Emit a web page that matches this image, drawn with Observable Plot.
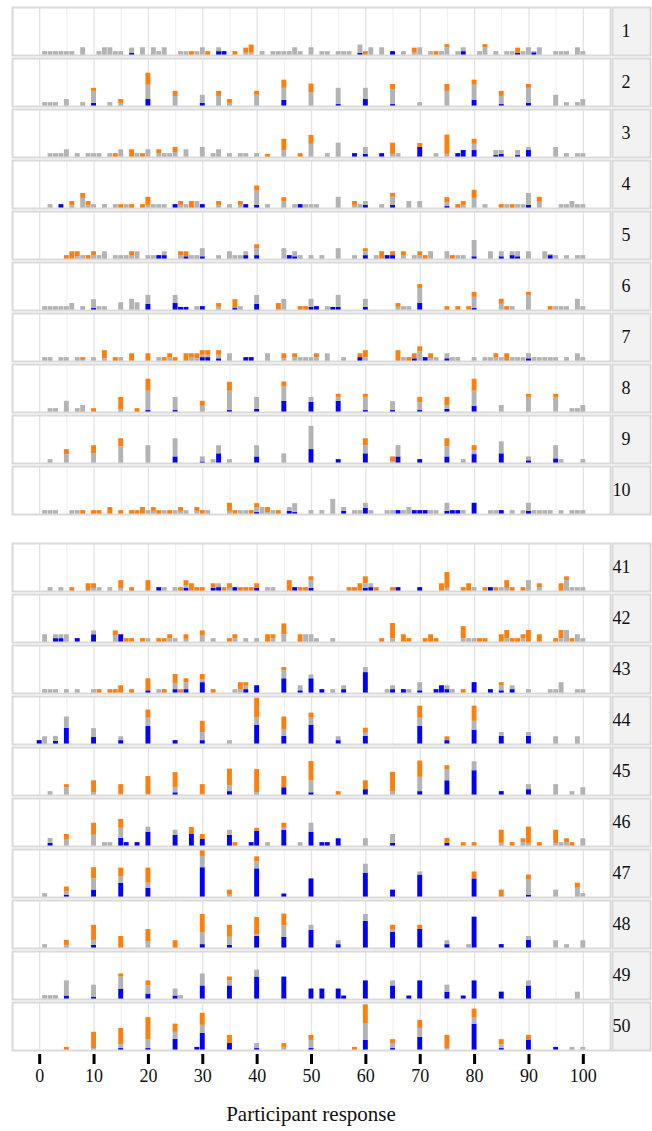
<!DOCTYPE html>
<html><head><meta charset="utf-8">
<script src="https://cdn.jsdelivr.net/npm/d3@7"></script>
<script src="https://cdn.jsdelivr.net/npm/@observablehq/plot@0.6"></script>
<style>
body{margin:0;background:#fff}
#chart svg{display:block}
#xlabel{width:622px;height:33px;line-height:33px;text-align:center;font-family:'Liberation Serif','DejaVu Serif',serif;font-size:21px;color:#111}
</style>
</head><body><div id="chart"></div><div id="xlabel"></div><script>
const FACETS = [1,2,3,4,5,6,7,8,9,10,41,42,43,44,45,46,47,48,49,50];
const SERIES = ["B","G","O"];
const COLORS = ["#0000ff","#b3b3b3","#ff7f0e"];
const X_TICKS = [0,10,20,30,40,50,60,70,80,90,100];
const X_LABEL = "Participant response";
const GRID_MAJOR = [0,10,20,30,40,50,60,70,80,90,100];
const GRID_MINOR = [5,15,25,35,45,55,65,75,85,95];
const BLUE = [
"17:.6 33:1 34:1 59:.6 65:1 78:1 88:.6 91:.7",
"10:.8 20:1.8 30:.8 45:1.6 55:.5 60:1.8 65:.5 80:1.6 85:.5 90:.8",
"58:1 60:.8 63:1 70:2.6 77:1 78:1.8 80:1.8 84:.5 85:.8 88:.5 90:1.8",
"4:1 25:1 30:1 38:1 40:.8 48:1 60:.8 65:.8 75:.5 90:.8",
"22:1 23:1 27:.7 30:.7 38:1 40:1 46:1 47:.7 60:1 64:1 65:1 80:.7 85:.7 87:1 88:.7 94:1",
"10:.5 20:1.6 25:1.8 26:.8 27:.8 30:1 36:.5 40:1.6 50:.8 51:1 54:.8 55:.8 60:.8 70:1.8 80:.5",
"30:1 31:1 33:.7 38:1 39:1 59:1 69:.7 71:1 75:.7 90:.7",
"20:.5 25:.5 35:.5 40:.8 45:2.9 50:2.6 55:2.9 60:.5 65:.5 70:.5 75:.8 80:1.6",
"25:1.7 30:.4 33:2.5 40:1.7 50:3.6 55:1 60:2.5 66:1.7 70:1 75:1.7 80:2.3 85:2.5 90:.7 95:1.2",
"40:.5 46:.8 47:.5 56:.8 60:1.6 66:1 69:1 70:1 71:1 75:.8 76:1 77:1 80:2.9 85:1 90:.8",
"22:1 27:.8 32:.8 33:1 36:1 40:.8 47:1 50:.8 60:.8 61:1 66:1 70:1 83:1",
"3:1 4:1 7:1 10:2 15:2",
"20:.7 25:1 27:1 30:2.8 38:1 40:2 45:3.8 48:.7 50:3.8 52:1 56:1 60:5.4 65:1 67:1 70:.7 73:1 74:2 75:1 80:2.8 83:1 85:.7 87:1",
"0:1 3:.8 5:4.2 10:1.8 15:1 20:4.7 25:1 30:1 40:5 45:2.1 50:5 55:1 60:2.1 70:4.7 75:1 80:3.7 85:2.1 90:2.1",
"25:.7 35:1 45:2 50:.7 60:1.5 70:1 75:3.8 80:6.4 85:1 90:1.5",
"2:.8 15:2.1 16:1 18:1 20:3.7 25:2.9 28:3.1 30:1.8 35:2.9 39:1 40:3.9 45:4.2 50:3.7 52:1 53:1 55:2 65:.8 75:.8",
"5:.6 10:1.9 15:3.7 20:2.4 30:7.7 40:7.4 45:.9 50:4.8 60:6.3 65:1.9 70:5.8 80:4.8 90:.6",
"10:.8 30:1 35:.8 40:3.1 45:2.9 50:4.7 55:1 60:7 65:4.2 70:5 75:1 80:8.1 85:1 90:2.1",
"5:.9 10:.6 15:2.7 20:1.4 25:.9 30:3.5 35:3.5 40:5.8 45:5.8 50:2.7 52:2.7 55:2.7 56:.9 60:4.8 65:3.5 68:.9 70:4.8 75:1.9 78:.9 80:4.8 85:1.9 90:3.5",
"15:.5 20:.5 25:2.9 29:.8 30:4.4 35:1.8 40:.5 50:.5 60:2.6 65:.5 70:3.4 80:6.8 85:.5 90:2.6 95:.8"
];
const GRAY = [
"1:1 2:1 3:1 4:1 5:1 6:1 8:2 11:1 12:2 13:2 14:1 15:1 17:1.3 19:2 21:2 22:1 23:2 26:1 27:1 29:1 30:2 33:1 38:.6 39:.6 41:1 43:1 44:1 45:1 46:1 47:2 48:1 50:2 52:1 53:1 55:1 56:1 57:1 59:2.1 61:2 63:2 67:1 69:.6 70:2 72:1 74:1 75:2 77:1 78:1 81:1 82:2 84:1 86:1 87:1 89:1 90:2 91:.3 92:2 95:1 96:1 97:1 99:2 100:1",
"1:1 2:1 3:1 5:1.8 8:1 10:3.1 13:1 15:.8 20:3.7 25:2.6 30:2.1 33:2.6 35:.8 40:2.9 45:3.1 50:3.5 55:4.2 60:2.9 65:3.9 70:1 75:3.9 80:3.9 85:2.1 90:3.9 95:2.9 97:1 99:1 100:1.8",
"2:1 3:1 4:1 5:2 7:1 9:1 10:1 11:1 13:1 15:2 18:1 20:2 22:1 23:1 24:1 25:1.3 27:2 30:2.6 32:1 33:2 35:1 37:1 38:1 40:1 45:1.8 50:3.4 53:1 55:3.7 60:1.8 65:.8 66:1 73:1 75:.8 80:1.6 84:1.3 85:1 88:1.3 90:.8 95:2.6 97:1 99:1 100:1",
"2:1 6:.8 8:2.6 9:.8 10:1 12:1 14:1 16:1 20:.8 21:1 22:1 23:1 26:.8 27:1 29:1.8 33:.8 35:1 37:.8 40:3.7 42:1 45:1.8 47:1 49:1 50:1 51:1 55:2.9 58:.8 59:1 60:1 63:1 65:2.1 68:1.8 70:1.8 75:1 78:.8 80:2.6 82:1 86:1 88:1 89:1 90:3.1 92:1.6 96:1 97:1 98:1.8 99:1 100:1",
"7:.7 8:1 10:1 11:1 12:2 14:1 15:1 16:1 17:1 18:2 20:1 21:1 23:1 26:1 28:1 29:1 30:2.1 33:1 35:2 36:1 37:1 38:1 40:1.8 45:2.8 47:1.3 48:1 50:1 52:1 55:2.8 58:1 60:1 62:1 67:1 69:1 70:1 72:2 75:2 77:1 78:1 80:4.2 83:2 85:1.3 87:1 88:1.3 90:2 93:2 94:.3 95:1 97:1 99:1 100:1",
"1:1 2:1 3:1 4:1 5:1 6:1.8 8:1 10:2.3 11:1 12:1 15:2 17:2.9 18:2 20:2.3 25:2.1 29:1 33:.8 37:1 40:2.3 45:2.9 50:2.1 53:1 55:3.1 60:2.1 66:.8 67:1 68:1 70:3.9 80:2.9 85:1.6 87:1 90:3.9 95:1 96:1 97:1 99:2.9 100:1",
"1:1 2:1 4:1 5:1 7:1 8:.3 10:1 12:.7 15:1 22:1 24:1 28:1 29:.7 30:.6 31:.6 33:.9 35:2 42:2 45:.7 47:1 48:1 49:1 50:1 51:1 53:2 56:1 60:1 67:1 70:2.5 72:.7 73:1 75:1.3 76:1 77:1 80:1 82:1 83:1 84:1 85:1 87:1 88:1 89:1 90:1.3 91:1 92:1 93:1 94:1 95:1 97:1 99:2 100:1",
"2:1 3:1 5:2.9 7:1 8:1.8 15:.8 20:5 25:3.4 30:1.6 35:5 40:3.1 45:3.7 50:1.3 55:1 60:3.4 65:2.3 70:2.1 75:1 80:3.9 85:1.8 90:3.9 95:3.9 98:1 99:1 100:1.8",
"2:1 5:2.3 10:2.5 15:4.3 20:4.6 25:4.7 30:1.3 32:1 33:2.1 35:1 40:2.9 45:2.5 50:6 60:2.1 65:.4 66:2.9 75:2.6 78:1 80:1 85:3.1 90:1 95:3.4 96:1 100:1",
"1:1 2:1 3:1 6:1 7:1 20:1 21:.8 23:1 25:1 26:.8 27:1 29:.8 31:1 35:.8 37:1 38:1 40:1.3 41:1.8 42:.5 43:1 46:1 47:2.3 50:1 52:1 54:3.9 56:1 58:1 59:1 60:1.3 61:1 64:1 65:1 67:1 68:1.8 72:1 73:1 75:2.1 78:1 83:1 84:1 87:1 89:1 90:2.1 91:1 92:1 93:1 94:1 96:1 98:1 99:1 100:1",
"2:1 4:1 10:.8 11:1 13:1 15:.8 23:1 25:1 27:.7 33:1 35:.8 42:1 43:1 50:2 60:1.2 61:1 75:.8 80:1 85:1 86:.8 90:2.8 92:1 97:2.8 98:1 99:1 100:1",
"1:2 3:1 4:1 5:2 10:1 14:1.8 20:1 24:1 25:1 27:.8 30:1.8 32:1 36:1 38:1 40:1 43:1 45:2 49:2 50:2 51:1 54:1 65:1 78:1 79:1 80:1 86:1 89:1 96:1 97:3.1 99:2 100:1",
"1:1 2:1 3:1 5:1 7:1 10:1 22:1 25:1.6 27:1.8 30:.8 36:1 37:1 38:1 45:2.1 48:1.3 50:1 54:1 56:1 60:1.3 64:1 65:1 68:1 70:2.1 75:1 76:1 85:1.3 87:1 90:1 94:1 95:1 96:2.8 99:1 100:1",
"1:2 3:1.3 5:2.9 10:2.3 15:1 20:2.1 30:2.1 35:1 40:1.8 45:1.6 50:1.8 55:1 60:.8 70:2.1 80:2.3 85:1 90:1 95:2 99:2",
"2:1 5:2 10:.7 15:.3 20:.3 25:1.3 30:.3 35:1.6 40:.7 50:3.1 65:1 70:3.7 75:2.9 80:2.3 90:1.3 95:2.8 98:1 100:2",
"2:1.3 5:1.8 10:2.9 12:1 13:1 15:2.6 20:1.3 25:1.3 35:1.3 42:1 45:.5 48:1 50:2.3 60:2 65:2.3 85:.8 89:1 90:.8 95:.8 96:1 97:1 100:2",
"1:1 5:.8 10:2.9 15:1.6 20:1.3 30:2.9 35:.6 40:1.8 60:2.3 70:.8 90:3.9 95:1.9 99:2.4 100:1",
"1:1 5:.8 10:1.3 20:1.8 30:3.1 35:2.1 40:.5 45:2.9 50:1.3 55:1 60:1.8 65:.5 75:1 79:1 90:1 95:2 97:1 100:2",
"1:1 2:1 3:1 5:3.9 10:3.1 15:3.1 20:2.1 25:1.8 26:1 30:3.1 35:1.3 40:1.8 65:1.3 75:1.8 90:1.3 99:1.9",
"10:.5 15:1 20:2.3 25:1.8 30:2.1 40:1.3 45:.8 50:2.1 60:4.2 65:1.3 70:2.3 75:.5 80:1.6 85:1 98:.8 100:.8"
];
const ORANGE = [
"28:1 31:1 36:1 38:1.3 39:2.1 60:1 69:1.3 73:1 75:.8 82:.8 88:1.3",
"10:.8 15:1 20:3.1 25:1.3 33:1.3 35:1 40:1 45:2.1 50:2.3 65:1.3 75:1.8 80:1.3 85:1.3 90:1",
"14:1 17:2 19:1 22:1 25:1.3 42:.8 45:2.9 48:1 50:2.3 65:2.9 70:1 75:5 80:1.3",
"6:1 8:1.3 9:1 15:1 17:1 19:1 20:2.1 26:1 28:1.8 33:1 37:1 40:1.3 45:1 58:1 65:1 75:1.3 77:1 78:1 80:2.1 85:1 87:1 92:1.3",
"5:1 6:2 7:1.3 9:1 10:1 17:1 26:1 27:1.3 40:1 60:.8 63:2 65:1 67:1 70:1 71:1 76:1",
"33:1 36:2.3 44:1.8 48:1 49:1 66:1 70:1 75:1 77:1 79:1 80:1.3 85:1.3 86:1 90:.8 94:1",
"8:.7 12:2.1 14:1 17:2 20:2 23:1 24:1 25:1 27:2 28:1 29:1.3 30:1.2 31:1.2 33:1.2 45:1.3 47:1 51:1 59:1 60:1.8 66:2.8 68:1 69:1.3 70:1.3 72:1.3 84:1 86:2",
"10:1 15:3.1 18:1 20:3.1 30:1.3 35:2.3 45:1.3 55:.8 60:.8 70:1.3 75:2.1 80:3.1 90:.8 95:.8",
"5:1.3 10:2.1 15:2.1 60:1.8 65:1.3 75:2.1 80:1.3",
"8:1 10:1 11:1 13:1.8 15:1 17:1 18:1 19:1.8 21:1 22:1 24:1 26:1 29:1 30:1 35:2.1 36:1 39:1 40:1 42:1.3 44:1",
"6:1 9:2 10:1.2 15:2 17:1 20:2.8 26:1 27:1.3 28:2 29:1 30:1 32:1.2 34:1 35:1.2 37:1 38:1 39:1 40:1.2 46:2.8 48:1 49:1 50:1 57:1 58:1 59:2 60:1.8 62:1 65:1 74:2 75:4.1 78:1 79:2 82:1 84:1 86:2 87:1 89:1 92:1 96:2 97:1",
"14:1.2 16:1 17:1 19:1 22:1 23:1 24:1 27:1.2 30:1.2 35:1 36:1 42:2 43:1 45:2.8 48:2 63:1 65:3.9 67:2 68:1 71:1 72:2 73:1 78:3.1 81:1 82:1 85:2 86:2.1 87:1 88:1 89:1 90:3.1 92:2 95:1 96:2.1 98:1",
"11:1 13:1 14:1 15:2 17:1 20:3.1 23:1 25:2.3 26:1 27:1 30:1.3 32:1 37:1.8 38:.8 45:.8 78:1 85:.8",
"20:2.1 30:2.9 40:5.2 45:3.4 50:1.3 60:1.3 70:3.1 75:1 80:3.9",
"5:.8 10:3.1 15:2.5 20:4.6 25:3.9 30:2.5 35:4.2 40:6 45:2.9 50:5 55:1 60:2.3 65:5 70:4.2 75:1",
"5:1.3 10:3.1 15:2.3 28:1.8 30:1.3 36:1 40:.8 45:1.3 75:1.3 78:1 80:1 85:3.4 87:1 89:1 90:4.2 92:1 95:3.4 97:1 98:1",
"5:1.3 10:2.9 15:2.3 20:3.9 30:1.7 35:1.3 40:1.3 80:1.8 85:1.9 90:1.3 99:1.3",
"5:1.3 10:3.9 15:3.1 20:3.1 25:2 30:4.7 35:3.1 40:4.4 45:3.1 65:1.3 70:1",
"15:.8 20:1.3 35:1",
"5:.8 10:4.2 15:4.2 20:5.7 25:2.1 30:3.1 35:2.1 45:1 50:1.3 58:.8 60:5 65:1 70:2.1 75:3.4 80:2.3 85:1.3 90:1.3"
];

const rows = FACETS.flatMap((f, i) =>
  [["B", BLUE], ["G", GRAY], ["O", ORANGE]].flatMap(([c, arr]) =>
    arr[i].split(/\s+/).filter(Boolean).map(s => {
      const [x, v] = s.split(":");
      return {f, c, x: +x, v: +v};
    })));

const FONT = "Liberation Serif, DejaVu Serif, serif";
const BORDER = "#dadada";

function panel(facets, bottom) {
  return Plot.plot({
    width: 652,
    height: bottom ? 578 : 520,
    marginLeft: 12, marginRight: 42,
    marginTop: bottom ? 20 : 5,
    marginBottom: bottom ? 45 : 3,
    style: {fontFamily: FONT, fontSize: "18px", color: "#111", background: "#fff"},
    x: {domain: [-5, 105], axis: null},
    y: {domain: [0, 12.4], axis: null},
    fy: {domain: facets, axis: null, paddingInner: 0.056, paddingOuter: 0},
    color: {domain: SERIES, range: COLORS},
    marks: [
      Plot.frame({fill: "#f2f2f2", stroke: BORDER, strokeWidth: 2, insetLeft: 600, insetRight: -40}),
      Plot.ruleX(GRID_MINOR, {stroke: "#f2f2f2", strokeWidth: 1.3}),
      Plot.ruleX(GRID_MAJOR, {stroke: "#e4e4e4", strokeWidth: 1.3}),
      Plot.rectY(rows.filter(d => facets.includes(d.f)), {
        fy: "f", x1: d => d.x - 0.45, x2: d => d.x + 0.45, y: "v", fill: "c", order: SERIES
      }),
      Plot.frame({stroke: BORDER, strokeWidth: 2}),
      Plot.text(facets, {fy: d => d, text: d => String(d), frameAnchor: "right", dx: 20,
        fontSize: 18, fontFamily: FONT, fill: "#111"}),
      bottom ? Plot.axisX(X_TICKS, {
        tickSize: 10, strokeWidth: 3, stroke: "#000", tickPadding: 5, dy: 4,
        fontSize: 18, fontFamily: FONT, fill: "#111", label: null
      }) : null
    ]
  });
}

const el = document.getElementById("chart");
el.appendChild(panel(FACETS.slice(0, 10), false));
el.appendChild(panel(FACETS.slice(10), true));
document.getElementById("xlabel").textContent = X_LABEL;
</script></body></html>
